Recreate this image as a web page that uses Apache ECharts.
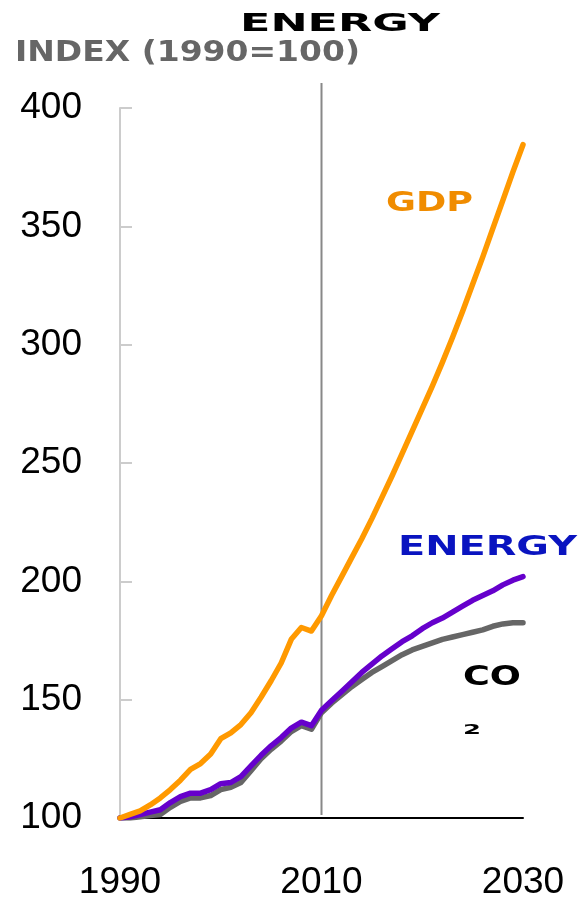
<!DOCTYPE html>
<html><head><meta charset="utf-8">
<script src="https://cdn.jsdelivr.net/npm/echarts@6/dist/echarts.min.js"></script>
<style>html,body{margin:0;padding:0;background:#fff}#c{width:578px;height:901px}</style>
</head><body><div id="c"></div>
<script>
const years = ['1990','1991','1992','1993','1994','1995','1996','1997','1998','1999',
  '2000','2001','2002','2003','2004','2005','2006','2007','2008','2009',
  '2010','2011','2012','2013','2014','2015','2016','2017','2018','2019',
  '2020','2021','2022','2023','2024','2025','2026','2027','2028','2029','2030'];
const gdp = [100,101.5,103,105.5,108.5,112,116,120.5,123,127,
  133.5,136,139.5,144.5,151,158,165.5,175.5,180.5,179,
  185.5,194,202,210,218,226.5,235.5,244.5,254,263.5,
  273,282.5,292.5,303,314,325.5,337,349,361,373,384.5];
const energy = [100,100.5,101.5,102.5,103.5,106.5,109,110.5,110.5,112,
  114.5,115,117.5,122,126.5,130.5,134,138,140.5,139,
  145.5,149.5,153.5,157.5,161.5,165,168.5,171.5,174.5,177,
  180,182.5,184.5,187,189.5,192,194,196,198.5,200.5,202];
const co2 = [100,100,100.5,101,101.5,104.5,107,108.5,108.5,109.5,
  112,113,115,120,125,129,132.5,136.5,139,137.5,
  144.5,148.5,152,155.5,158.5,161.5,164,166.5,169,171,
  172.5,174,175.5,176.5,177.5,178.5,179.5,181,182,182.5,182.5];
const yMin = 100, yMax = 400, yStep = 50;
const dividerYear = '2010';
const titleText = 'ENERGY';
const subtitleText = 'INDEX (1990=100)';
const gdpName = 'GDP', energyName = 'ENERGY', co2Name = 'CO', co2Sub = '2';

const chart = echarts.init(document.getElementById('c'), null, {renderer:'canvas'});
const FONT = "'Liberation Sans', Arial, sans-serif";
const BLOCK = "'DejaVu Sans', sans-serif";

const mc = document.createElement('canvas').getContext('2d');
function stretched(text, left, midY, size, width, color) {
  mc.font = 'bold ' + size + 'px ' + BLOCK;
  const w = mc.measureText(text).width;
  return {
    type: 'text', x: left, y: midY, scaleX: width / w, z: 100,
    style: { text: text, x: 0, y: 0, fill: color, font: 'bold ' + size + 'px ' + BLOCK,
      align: 'left', verticalAlign: 'middle' }
  };
}

chart.setOption({
  animation: false,
  backgroundColor: '#fff',
  grid: { left: 120, right: 55, top: 108, bottom: 79, containLabel: false },
  xAxis: {
    type: 'category', data: years, boundaryGap: false,
    axisLine: { lineStyle: { color: '#000', width: 2 } },
    axisTick: { show: false },
    axisLabel: { interval: 19, color: '#000', fontSize: 37, fontFamily: FONT, margin: 46, showMaxLabel: true },
    splitLine: { show: false }
  },
  yAxis: {
    type: 'value', min: yMin, max: yMax, interval: yStep,
    axisLine: { show: true, lineStyle: { color: '#cccccc', width: 2 } },
    axisTick: { show: true, inside: true, length: 12, lineStyle: { color: '#cccccc', width: 2 } },
    axisLabel: { color: '#000', fontSize: 37, fontFamily: FONT, margin: 38 },
    splitLine: { show: false }
  },
  series: [
    { name: 'CO2', type: 'line', data: co2, showSymbol: false, symbol: 'none',
      lineStyle: { color: '#666666', width: 5.5, cap: 'round', join: 'round' }, z: 2 },
    { name: 'Energy', type: 'line', data: energy, showSymbol: false, symbol: 'none',
      lineStyle: { color: '#6600cc', width: 5.5, cap: 'round', join: 'round' }, z: 3 },
    { name: 'GDP', type: 'line', data: gdp, showSymbol: false, symbol: 'none',
      lineStyle: { color: '#ff9900', width: 5.5, cap: 'round', join: 'round' }, z: 4 }
  ]
});

const px = chart.convertToPixel({ xAxisIndex: 0 }, dividerYear);
const yBottom = chart.convertToPixel({ yAxisIndex: 0 }, yMin);
chart.setOption({
  graphic: [
    { type: 'line', shape: { x1: px, y1: 83, x2: px, y2: yBottom - 3 },
      style: { stroke: '#888888', lineWidth: 2 }, z: 1 },
    stretched(titleText, 240, 24, 25, 200, '#000000'),
    stretched(subtitleText, 15, 53, 29, 345, '#666666'),
    stretched(gdpName, 386, 204, 27, 87, '#f08c00'),
    stretched(energyName, 398, 548, 26, 179, '#0a14c0'),
    stretched(co2Name, 463, 678, 27, 58, '#000000'),
    stretched(co2Sub, 463, 730, 14, 18, '#000000')
  ]
});
</script></body></html>
